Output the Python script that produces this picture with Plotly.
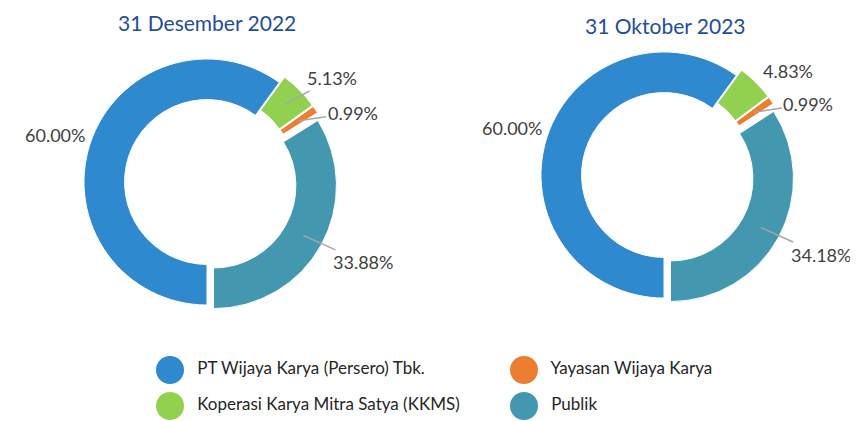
import math
import plotly.graph_objects as go

# data
labels = ["PT Wijaya Karya (Persero) Tbk.", "Koperasi Karya Mitra Satya (KKMS)",
          "Yayasan Wijaya Karya", "Publik"]
colors = ["#2E89CF", "#92D050", "#ED7D31", "#4398AF"]
titles = ["31 Desember 2022", "31 Oktober 2023"]
values_2022 = [60.00, 5.13, 0.99, 33.88]
values_2023 = [60.00, 4.83, 0.99, 34.18]

W, H = 858, 421
FONT = "Lato"
HOLE = 0.67
PULL = [0, 0.06, 0.06, 0.06]
HALF = 130.4                      # setengah tinggi domain pie (px)
R = HALF / (1 + max(PULL))        # jari-jari luar donut seperti dihitung plotly

# posisi label relatif terhadap titik jangkar (px) dan ada/tidaknya garis penunjuk
label_offsets = [(-54, -15), (47, -26), (54, -8), (60, 27)]
leaders = [[False, True, True, True], [False, False, True, True]]


def px_domain(cx, cy, half_w, half_h):
    # kotak domain dalam piksel -> koordinat paper
    return dict(x=[(cx - half_w) / W, (cx + half_w) / W],
                y=[1 - (cy + half_h) / H, 1 - (cy - half_h) / H])


fig = go.Figure()

# donut per periode (posisi pusat dalam piksel figur)
centers = [(199, 174), (656, 167)]
for k, (vals, (cx, cy)) in enumerate(zip([values_2022, values_2023], centers)):
    fig.add_trace(go.Pie(
        labels=labels, values=vals, sort=False, direction="clockwise", rotation=180,
        hole=HOLE, pull=PULL, automargin=False,
        marker=dict(colors=colors, line=dict(color="white", width=1)),
        textinfo="none", domain=px_domain(cx, cy, 150, HALF),
        showlegend=False, hoverinfo="label+value",
    ))

    # label persentase di luar cincin, dengan garis penunjuk abu-abu
    total = sum(vals)
    start = 0
    for i, v in enumerate(vals):
        mid = 180 + (start + v / 2) / total * 360
        start += v
        rr = R * ((1 + HOLE) / 2 + PULL[i])
        ax_, ay_ = label_offsets[i]
        fig.add_annotation(
            x=cx + rr * math.sin(math.radians(mid)), y=cy - rr * math.cos(math.radians(mid)),
            xref="x", yref="y", text=f"{v:.2f}%", ax=ax_, ay=ay_,
            showarrow=True, arrowhead=0, arrowwidth=1.5, standoff=0,
            arrowcolor="#A6A6A6" if leaders[k][i] else "rgba(0,0,0,0)",
            font=dict(family=FONT, size=18, color="#404040"),
        )

# judul
for t, (cx, cy) in zip(titles, [(199, 14), (657, 17)]):
    fig.add_annotation(text=t, x=cx / W, y=1 - cy / H, xref="paper", yref="paper",
                       xanchor="center", yanchor="middle", showarrow=False,
                       font=dict(family=FONT, size=21, color="#1F4E9A"))

# legenda manual (lingkaran besar)
col_x = [162, 516]
row_y = [362, 398]
fig.add_trace(go.Scatter(
    x=[col_x[i // 2] for i in range(len(labels))],
    y=[row_y[i % 2] for i in range(len(labels))],
    mode="markers+text", text=["  " + l for l in labels], textposition="middle right",
    marker=dict(size=28, color=colors), textfont=dict(family=FONT, size=17, color="#262626"),
    showlegend=False, hoverinfo="skip", cliponaxis=False,
))

fig.update_layout(
    width=W, height=H, margin=dict(l=0, r=0, t=0, b=0, autoexpand=False),
    paper_bgcolor="white", plot_bgcolor="rgba(0,0,0,0)",
    xaxis=dict(range=[0, W], visible=False, automargin=False, fixedrange=True),
    yaxis=dict(range=[H, 0], visible=False, automargin=False, fixedrange=True),
)

fig.write_html("out.html")
